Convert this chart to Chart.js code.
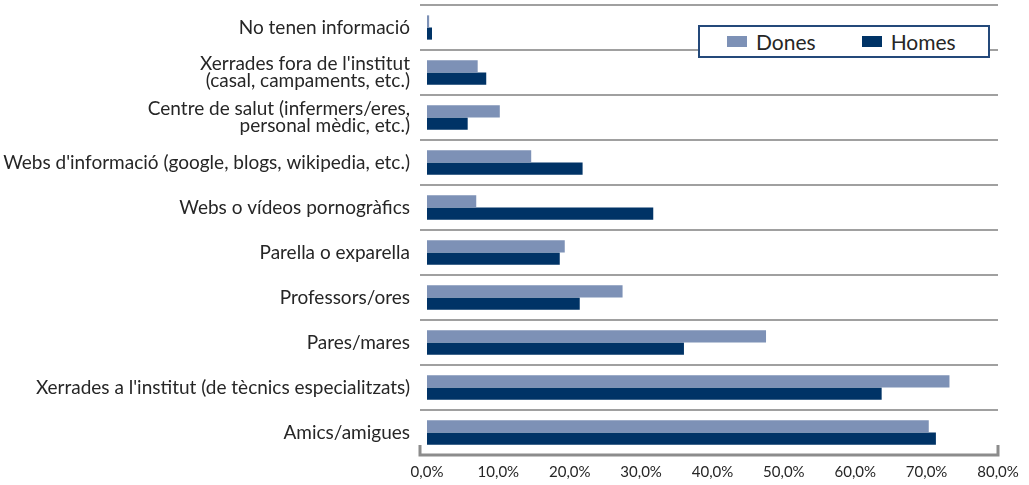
<!DOCTYPE html>
<html>
<head>
<meta charset="utf-8">
<script src="https://cdn.jsdelivr.net/npm/chart.js@4.4.0/dist/chart.umd.min.js"></script>
<style>
  html, body { margin: 0; padding: 0; background: #fff; }
  #wrap { position: relative; width: 1029px; height: 485px; }
  #legend {
    position: absolute; left: 698px; top: 25px; width: 288px; height: 29px;
    border: 2px solid #24497a; background: #fff;
    font-family: Lato, "Open Sans", sans-serif; font-size: 21px; color: #262626;
    display: flex; align-items: center;
  }
  .item { display: flex; align-items: center; }
  .sw { width: 20px; height: 11px; margin-right: 9px; }
</style>
</head>
<body>
<div id="wrap">
  <canvas id="sourcesChart" width="1029" height="485"></canvas>
  <div id="legend"></div>
</div>
<script>
// categories, top to bottom
const categories = [
  "No tenen informació",
  ["Xerrades fora de l'institut", "(casal, campaments, etc.)"],
  ["Centre de salut (infermers/eres,", "personal mèdic, etc.)"],
  "Webs d'informació (google, blogs, wikipedia, etc.)",
  "Webs o vídeos pornogràfics",
  "Parella o exparella",
  "Professors/ores",
  "Pares/mares",
  "Xerrades a l'institut (de tècnics especialitzats)",
  "Amics/amigues"
];
const dones = [0.3, 7.1, 10.2, 14.6, 6.9, 19.3, 27.4, 47.5, 73.2, 70.3];
const homes = [0.7, 8.3, 5.7, 21.8, 31.7, 18.6, 21.4, 36.0, 63.7, 71.3];
const xMin = 0, xMax = 80, xStep = 10;

const FONT = "Lato";

// bottom axis bracket
const bracket = {
  id: 'bracket',
  afterDraw(chart) {
    const c = chart.ctx, a = chart.chartArea;
    c.save();
    c.strokeStyle = '#8c8c8c';
    c.lineWidth = 3;
    c.beginPath();
    c.moveTo(a.left - 7, a.bottom - 10);
    c.lineTo(a.left - 7, a.bottom);
    c.lineTo(a.right, a.bottom);
    c.lineTo(a.right, a.bottom - 10);
    c.stroke();
    c.restore();
  }
};

const ctx = document.getElementById('sourcesChart').getContext('2d');
const chart = new Chart(ctx, {
  type: 'bar',
  data: {
    labels: categories,
    datasets: [
      { label: 'Dones', data: dones, backgroundColor: '#7d91b6', categoryPercentage: 0.54, barPercentage: 1 },
      { label: 'Homes', data: homes, backgroundColor: '#003366', categoryPercentage: 0.54, barPercentage: 1 }
    ]
  },
  options: {
    indexAxis: 'y',
    responsive: false,
    animation: false,
    layout: { padding: { top: 5, right: 31, left: 0, bottom: 0 } },
    plugins: {
      legend: { display: false },
      tooltip: { enabled: false }
    },
    scales: {
      x: {
        min: xMin,
        max: xMax,
        grid: { display: false },
        border: { display: false },
        ticks: {
          stepSize: xStep,
          color: '#262626',
          padding: 0,
          font: { family: FONT, size: 15 },
          callback: v => v.toFixed(1).replace('.', ',') + '%'
        },
        afterFit: s => { s.height = 30; }
      },
      y: {
        grid: { color: '#a0a0a0', lineWidth: 2, tickLength: 7, offset: true },
        border: { display: false },
        ticks: {
          color: '#262626',
          padding: 10,
          font: { family: FONT, size: 19, lineHeight: 0.92 }
        },
        afterFit: s => { s.width = 427; s.paddingTop = 0; s.paddingBottom = 0; }
      }
    }
  },
  plugins: [bracket]
});

// html legend
const leg = document.getElementById('legend');
chart.data.datasets.forEach((ds, i) => {
  const it = document.createElement('div');
  it.className = 'item';
  it.style.marginLeft = i === 0 ? '27px' : '46px';
  it.innerHTML = '<span class="sw" style="background:' + ds.backgroundColor + '"></span>' + ds.label;
  leg.appendChild(it);
});
</script>
</body>
</html>
